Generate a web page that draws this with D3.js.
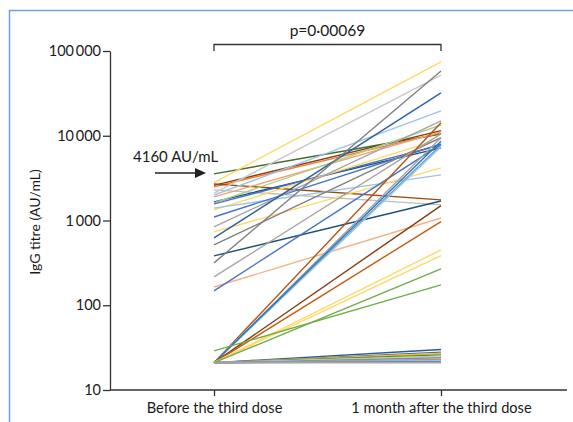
<!DOCTYPE html>
<html>
<head>
<meta charset="utf-8">
<script src="https://cdn.jsdelivr.net/npm/d3@7"></script>
<style>
  body { margin: 0; background: #fff; }
  text { font-family: Lato, "Open Sans", sans-serif; fill: #1a1a1a; }
</style>
</head>
<body>
<svg id="chart" width="573" height="422"></svg>
<script>
// data
const categories = ["Before the third dose", "1 month after the third dose"];
const yTicks = [10, 100, 1000, 10000, 100000];
const before = [3550, 2800, 2600, 2500, 2700, 2300, 2100, 1900, 2000, 1660, 1615, 1570, 1335, 1400, 1100, 840, 733, 623, 515, 382, 316, 216, 164, 148,
  21, 21, 21, 21, 21, 21, 21, 21, 21, 21, 29,
  21, 21, 21, 21, 21, 21, 21, 21, 21, 21, 21, 21];
const after = [10500, 74500, 11500, 10800, 1750, 1530, 52000, 11100, 19700, 7200, 13400, 7800, 9200, 3450, 8000, 15000, 4180, 32000, 9500, 1700, 58000, 10500, 1070, 7900,
  14200, 9450, 7800, 7400, 8600, 1500, 970, 450, 385, 268, 174,
  30, 28, 27, 26, 25, 24.5, 24, 23, 22.5, 22, 21.5, 21];
const lineColours = ["#3f6e2a", "#ffd966", "#843c0c", "#ed7d31", "#9e480e", "#bfbfbf", "#c9c9c9", "#f4a070", "#9dc3e6", "#1f4e79", "#a9d18e", "#4472c4", "#ffd966", "#9dc3e6", "#4472c4", "#a5a5a5", "#ffd966", "#2e5f9e", "#7f7f7f", "#1f4e79", "#7f7f7f", "#a5a5a5", "#f4b183", "#4472c4",
  "#b4541c", "#a5a5a5", "#5b9bd5", "#9dc3e6", "#2e75b6", "#843c0c", "#c55a11", "#ffd966", "#ffd966", "#70ad47", "#70ad47",
  "#2f5597", "#4472c4", "#ffc000", "#548235", "#9dc3e6", "#ffd966", "#5b9bd5", "#ed7d31", "#a5a5a5", "#9dc3e6", "#4472c4", "#a5a5a5"];

const svg = d3.select("#chart");
const margins = { top: 51, left: 110, bottom: 32 };
const height = +svg.attr("height");

// frame
svg.append("path")
  .attr("d", "M9.5,422V10.5H573")
  .attr("fill", "none")
  .attr("stroke", "#6f9fd8")
  .attr("stroke-width", 1.5);

const yScale = d3.scaleLog().domain([10, 100000]).range([height - margins.bottom, margins.top]);
const xScale = d3.scalePoint().domain(categories).range([214, 441]);

// lines
const pairs = before.map((b, i) => ({ b: b, a: after[i], c: lineColours[i] }));
svg.append("g").selectAll("line").data(pairs).enter().append("line")
  .attr("x1", xScale(categories[0]))
  .attr("x2", xScale(categories[1]))
  .attr("y1", d => yScale(d.b))
  .attr("y2", d => yScale(d.a))
  .attr("stroke", d => d.c)
  .attr("stroke-width", 1.4);

// axes
const fmt = v => d3.format(",")(v).replace(/,/g, "\u2009");
const yAxis = svg.append("g")
  .attr("transform", `translate(${margins.left},0)`)
  .call(d3.axisLeft(yScale).tickValues(yTicks).tickFormat(fmt).tickSize(7).tickSizeOuter(0));
yAxis.select(".domain").attr("stroke", "#333").attr("stroke-width", 1.3);
yAxis.selectAll(".tick line").attr("stroke", "#333").attr("stroke-width", 1.3);
yAxis.selectAll(".tick text").attr("font-size", 14.5).attr("font-family", "Lato, sans-serif").attr("fill", "#1a1a1a").attr("x", -9);

const xAxis = svg.append("g")
  .attr("transform", `translate(0,${height - margins.bottom})`)
  .call(d3.axisBottom(xScale).tickSize(6).tickSizeOuter(0));
xAxis.select(".domain").remove();
xAxis.append("line").attr("x1", margins.left).attr("x2", 567).attr("stroke", "#333").attr("stroke-width", 1.3);
xAxis.selectAll(".tick line").attr("stroke", "#333").attr("stroke-width", 1.3);
xAxis.selectAll(".tick text").attr("font-size", 14.6).attr("font-family", "Lato, sans-serif").attr("fill", "#1a1a1a").attr("dy", "0.95em");

svg.append("text")
  .text("IgG titre (AU/mL)")
  .attr("transform", `rotate(-90) translate(${-222},${40})`)
  .attr("text-anchor", "middle")
  .attr("font-size", 14);

// p-value bracket
const bx0 = xScale(categories[0]), bx1 = xScale(categories[1]);
svg.append("path")
  .attr("d", `M${bx0},51V44.5H${bx1}V51`)
  .attr("fill", "none").attr("stroke", "#333").attr("stroke-width", 1.3);
svg.append("text").text("p=0\u00b700069")
  .attr("x", (bx0 + bx1) / 2).attr("y", 36)
  .attr("text-anchor", "middle").attr("font-size", 15.5);

// threshold arrow
svg.append("text").text("4160 AU/mL").attr("x", 133).attr("y", 162).attr("font-size", 15);
svg.append("line").attr("x1", 155).attr("x2", 196).attr("y1", 173).attr("y2", 173)
  .attr("stroke", "#222").attr("stroke-width", 1.4);
svg.append("path").attr("d", "M195,168L206,173L195,178Z").attr("fill", "#222");
</script>
</body>
</html>
